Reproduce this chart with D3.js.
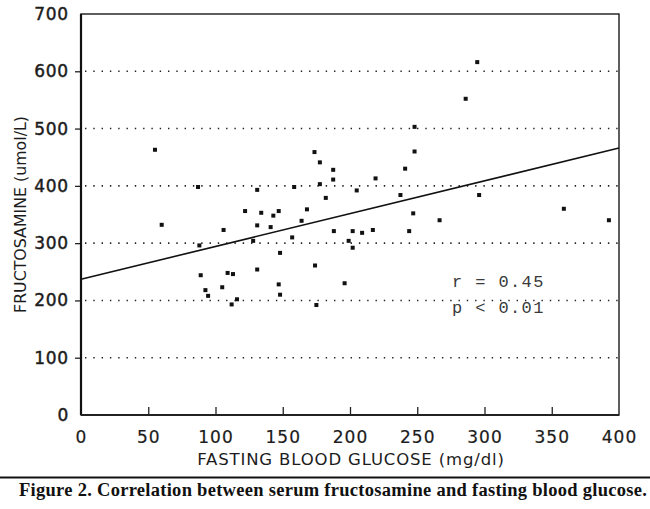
<!DOCTYPE html>
<html>
<head>
<meta charset="utf-8">
<script src="https://cdn.jsdelivr.net/npm/d3@7"></script>
<style>
  body { margin: 0; background: #fff; }
  svg { display: block; }
</style>
</head>
<body>
<div id="chart"></div>
<script>
// glucose (mg/dl) and fructosamine (umol/L)
const glucose = [55, 60, 87, 88, 89, 92.5, 94.5, 105, 106, 109, 112, 113, 116, 122, 128, 131, 131, 131,
    134, 141, 143, 147, 147, 148, 148, 157, 158.5, 164, 168, 173.6, 174, 175, 177.6, 177.6, 182,
    187.5, 187.5, 188, 196, 199, 202, 202, 205, 209, 217, 219, 237.5, 241, 244, 247, 248, 248,
    266.6, 286, 294.6, 296, 359, 392.5];
const fructosamine = [463, 332, 398, 296, 244, 218, 208, 223, 323, 248, 193, 246, 202, 356, 304, 393, 331, 254,
    353, 328, 348, 356, 228, 283, 210, 310, 398, 339, 359, 459, 261, 192, 441, 403, 379,
    428, 411, 321, 230, 304, 321, 292, 392, 318, 323, 413, 384, 430, 321, 352, 460, 503,
    340, 552, 616, 384, 360, 340];
// regression line ends
const fitGlucose = [0, 400];
const fitFructosamine = [237, 466];

const xTicks = [0, 50, 100, 150, 200, 250, 300, 350, 400];
const yTicks = [0, 100, 200, 300, 400, 500, 600, 700];
const statLines = ["r = 0.45", "p < 0.01"];

const width = 650, height = 509;
const plotLeft = 81, plotRight = 619, plotTop = 14, plotBottom = 415;

const svg = d3.select('#chart').append('svg')
    .attr('width', width)
    .attr('height', height);

svg.append('rect').attr('width', width).attr('height', height).attr('fill', '#fff');

const x = d3.scaleLinear().domain([0, 400]).range([plotLeft, plotRight]);
const y = d3.scaleLinear().domain([0, 700]).range([plotBottom, plotTop]);

// dotted grid
svg.append('g')
    .selectAll('line')
    .data(yTicks.filter(d => d > 0 && d < 700))
    .enter().append('line')
    .attr('x1', plotLeft + 4).attr('x2', plotRight)
    .attr('y1', d => y(d)).attr('y2', d => y(d))
    .attr('stroke', '#222')
    .attr('stroke-width', 1.6)
    .attr('stroke-dasharray', '1.4,6.9');

// y axis: small outward ticks
const yAxis = d3.axisLeft(y).tickValues(yTicks).tickSize(6).tickPadding(6);
const gy = svg.append('g').attr('transform', `translate(${plotLeft},0)`).call(yAxis);
gy.select('.domain').remove();
gy.selectAll('.tick line').attr('stroke', '#222').attr('stroke-width', 1.3)
    .filter(d => d === 0 || d === 700).remove();
gy.selectAll('.tick text')
    .attr('font-family', 'DejaVu Sans, sans-serif')
    .attr('font-size', 17)
    .attr('letter-spacing', 0.8)
    .attr('fill', '#1c1c1c')
    .attr('stroke', '#1c1c1c')
    .attr('stroke-width', 0.45);

// x axis: ticks pointing up into the plot
const xAxis = d3.axisBottom(x).tickValues(xTicks).tickSize(-8).tickPadding(16);
const gx = svg.append('g').attr('transform', `translate(0,${plotBottom})`).call(xAxis);
gx.select('.domain').remove();
gx.selectAll('.tick line').attr('stroke', '#222').attr('stroke-width', 1.3)
    .filter(d => d === 0 || d === 400).remove();
gx.selectAll('.tick text')
    .attr('font-family', 'DejaVu Sans, sans-serif')
    .attr('font-size', 17)
    .attr('letter-spacing', 1)
    .attr('fill', '#1c1c1c')
    .attr('stroke', '#1c1c1c')
    .attr('stroke-width', 0.2);

// frame
svg.append('rect')
    .attr('x', x(0)).attr('y', y(700))
    .attr('width', x(400) - x(0)).attr('height', y(0) - y(700))
    .attr('fill', 'none').attr('stroke', '#1a1a1a').attr('stroke-width', 1.4);
svg.append('line')
    .attr('x1', x(0)).attr('x2', x(0)).attr('y1', y(700)).attr('y2', y(0))
    .attr('stroke', '#111').attr('stroke-width', 2.2);
svg.append('line')
    .attr('x1', x(0)).attr('x2', x(400)).attr('y1', y(0)).attr('y2', y(0))
    .attr('stroke', '#222').attr('stroke-width', 2);

// regression line
svg.append('line')
    .attr('x1', x(fitGlucose[0])).attr('y1', y(fitFructosamine[0]))
    .attr('x2', x(fitGlucose[1])).attr('y2', y(fitFructosamine[1]))
    .attr('stroke', '#111').attr('stroke-width', 1.6);

// points
svg.append('g')
    .selectAll('rect')
    .data(glucose.map((g, i) => [g, fructosamine[i]]))
    .enter().append('rect')
    .attr('x', d => x(d[0]) - 2)
    .attr('y', d => y(d[1]) - 2)
    .attr('width', 4).attr('height', 4)
    .attr('fill', '#111');

// r / p
svg.append('g')
    .selectAll('text')
    .data(statLines)
    .enter().append('text')
    .attr('x', 452)
    .attr('y', (d, i) => 287 + i * 26)
    .attr('font-family', 'Liberation Mono, monospace')
    .attr('font-size', 17)
    .attr('letter-spacing', 1.4)
    .attr('fill', '#3a3a3a')
    .text(d => d);

// axis titles
svg.append('text')
    .attr('x', (plotLeft + plotRight) / 2 + 1)
    .attr('y', 465)
    .attr('text-anchor', 'middle')
    .attr('font-family', 'DejaVu Sans, sans-serif')
    .attr('font-size', 16.5)
    .attr('letter-spacing', 0.85)
    .attr('fill', '#1c1c1c')
    .text('FASTING BLOOD GLUCOSE (mg/dl)');

svg.append('text')
    .attr('transform', `translate(26,${(plotTop + plotBottom) / 2}) rotate(-90)`)
    .attr('text-anchor', 'middle')
    .attr('font-family', 'DejaVu Sans, sans-serif')
    .attr('font-size', 15.8)
    .attr('fill', '#1c1c1c')
    .text('FRUCTOSAMINE (umol/L)');

// caption rule and caption
svg.append('line')
    .attr('x1', 0).attr('x2', width).attr('y1', 477.5).attr('y2', 477.5)
    .attr('stroke', '#111').attr('stroke-width', 1.8);

svg.append('text')
    .attr('x', 19)
    .attr('y', 496)
    .attr('font-family', 'Liberation Serif, serif')
    .attr('font-weight', 'bold')
    .attr('font-size', 18.5)
    .attr('letter-spacing', 0.28)
    .attr('fill', '#111')
    .text('Figure 2. Correlation between serum fructosamine and fasting blood glucose.');
</script>
</body>
</html>
